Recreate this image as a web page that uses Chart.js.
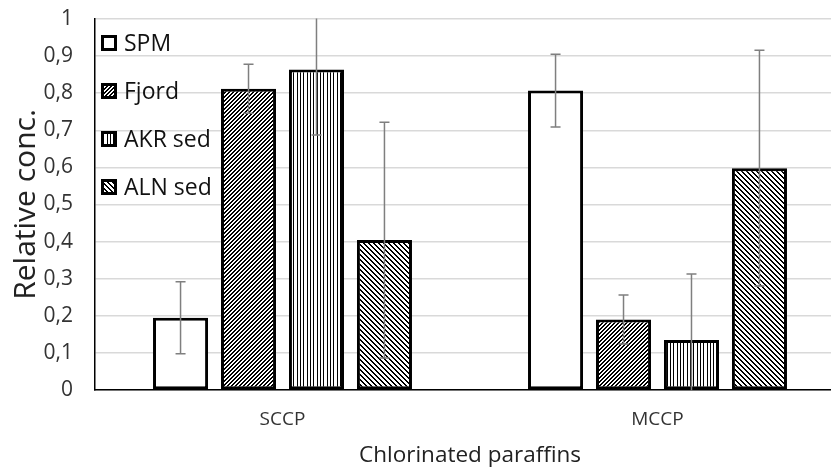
<!DOCTYPE html>
<html>
<head>
<meta charset="utf-8">
<script src="https://cdn.jsdelivr.net/npm/chart.js@4/dist/chart.umd.min.js"></script>
<style>
  html, body { margin: 0; padding: 0; background: #fff; overflow: hidden; }
  #wrap { width: 845px; height: 470px; }
</style>
</head>
<body>
<div id="wrap"><canvas id="c" width="845" height="470"></canvas></div>
<script>
// ---- Data ----
const categories = ['SCCP', 'MCCP'];
const seriesNames = ['SPM', 'Fjord', 'AKR sed', 'ALN sed'];
const spmValues   = [0.195, 0.807];
const spmErrors   = [0.097, 0.098];
const fjordValues = [0.812, 0.190];
const fjordErrors = [0.066, 0.066];
const akrValues   = [0.864, 0.135];
const akrErrors   = [0.177, 0.178];
const alnValues   = [0.404, 0.598];
const alnErrors   = [0.318, 0.318];
const yTickLabels = ['0', '0,1', '0,2', '0,3', '0,4', '0,5', '0,6', '0,7', '0,8', '0,9', '1'];
const xAxisTitle = 'Chlorinated paraffins';
const yAxisTitle = 'Relative conc.';

const FONT = "'Open Sans', sans-serif";

// ---- Patterns (crisp pixel hatching) ----
function makePattern(kind) {
  const c = document.createElement('canvas');
  const n = kind === 'fwd' ? 4 : (kind === 'back' ? 5 : 10);
  c.width = n; c.height = n;
  const g = c.getContext('2d');
  g.fillStyle = '#fff'; g.fillRect(0, 0, n, n);
  g.fillStyle = '#000';
  for (let x = 0; x < n; x++) {
    for (let y = 0; y < n; y++) {
      let on = false;
      if (kind === 'fwd') on = ((x + y) % n) < 2;
      else if (kind === 'back') on = (((x - y) % n) + n) % n < 2;
      else on = (x === 0 || x === 3 || x === 7);
      if (on) g.fillRect(x, y, 1, 1);
    }
  }
  return g.createPattern(c, 'repeat');
}

const fills = ['#ffffff', makePattern('fwd'), makePattern('vert'), makePattern('back')];
const valuesList = [spmValues, fjordValues, akrValues, alnValues];
const errorsList = [spmErrors, fjordErrors, akrErrors, alnErrors];

const datasets = seriesNames.map((name, i) => ({
  label: name,
  data: valuesList[i],
  errors: errorsList[i],
  backgroundColor: fills[i],
  borderColor: '#000',
  borderWidth: 3,
  borderSkipped: false,
  barPercentage: 0.81,
  categoryPercentage: 0.725
}));

// ---- Error bars plugin ----
const errorBars = {
  id: 'errorBars',
  afterDatasetsDraw(chart) {
    const ctx = chart.ctx;
    const ys = chart.scales.y;
    const a = chart.chartArea;
    ctx.save();
    ctx.beginPath();
    ctx.rect(a.left, a.top - 0.5, a.right - a.left, a.bottom - a.top + 1);
    ctx.clip();
    ctx.strokeStyle = '#7f7f7f';
    ctx.lineWidth = 1.5;
    chart.data.datasets.forEach((ds, di) => {
      const meta = chart.getDatasetMeta(di);
      meta.data.forEach((bar, j) => {
        const v = ds.data[j], e = ds.errors[j];
        const yTop = ys.getPixelForValue(v + e);
        const yBot = ys.getPixelForValue(v - e);
        const x = bar.x;
        ctx.beginPath();
        ctx.moveTo(x, yTop); ctx.lineTo(x, yBot);
        ctx.moveTo(x - 5, yTop); ctx.lineTo(x + 5, yTop);
        ctx.moveTo(x - 5, yBot); ctx.lineTo(x + 5, yBot);
        ctx.stroke();
      });
    });
    ctx.restore();
  }
};

// ---- Legend (inside chart area) plugin ----
const innerLegend = {
  id: 'innerLegend',
  afterDraw(chart) {
    const ctx = chart.ctx;
    const a = chart.chartArea;
    ctx.save();
    ctx.font = '23px ' + FONT;
    ctx.textBaseline = 'middle';
    ctx.textAlign = 'left';
    chart.data.datasets.forEach((ds, i) => {
      const cy = a.top + 24 + i * 48;
      const bx = a.left + 6, by = cy - 8;
      ctx.fillStyle = ds.backgroundColor;
      ctx.fillRect(bx, by, 16, 16);
      ctx.strokeStyle = '#000';
      ctx.lineWidth = 3;
      ctx.strokeRect(bx + 1.5, by + 1.5, 13, 13);
      ctx.fillStyle = '#111';
      ctx.fillText(ds.label, bx + 23, cy + 1);
    });
    ctx.restore();
  }
};

new Chart(document.getElementById('c'), {
  type: 'bar',
  data: { labels: categories, datasets },
  plugins: [errorBars, innerLegend],
  options: {
    responsive: false,
    animation: false,
    devicePixelRatio: 1,
    layout: { padding: { left: 8, top: 19, right: 0, bottom: 0 } },
    plugins: { legend: { display: false }, tooltip: { enabled: false } },
    scales: {
      x: {
        grid: { display: false, drawTicks: false },
        border: { display: true, color: '#000', width: 1.5 },
        ticks: { color: '#333', font: { family: FONT, size: 19 }, padding: 18 },
        title: { display: true, text: xAxisTitle, color: '#222', font: { family: FONT, size: 22.5 }, padding: { top: 4, bottom: 1 } },
        afterFit(s) { s.height = 80; }
      },
      y: {
        min: 0, max: 1,
        ticks: {
          stepSize: 0.1,
          color: '#333',
          font: { family: FONT, size: 21 },
          padding: 22,
          callback: (v, i) => yTickLabels[i]
        },
        grid: { color: '#d9d9d9', lineWidth: 1.5, drawTicks: false },
        border: { display: true, color: '#000', width: 1.5 },
        title: { display: true, text: yAxisTitle, color: '#222', font: { family: FONT, size: 30 }, padding: 0 },
        afterFit(s) { s.width = 87; s.paddingTop = 0; s.paddingBottom = 0; }
      }
    }
  }
});
</script>
</body>
</html>
